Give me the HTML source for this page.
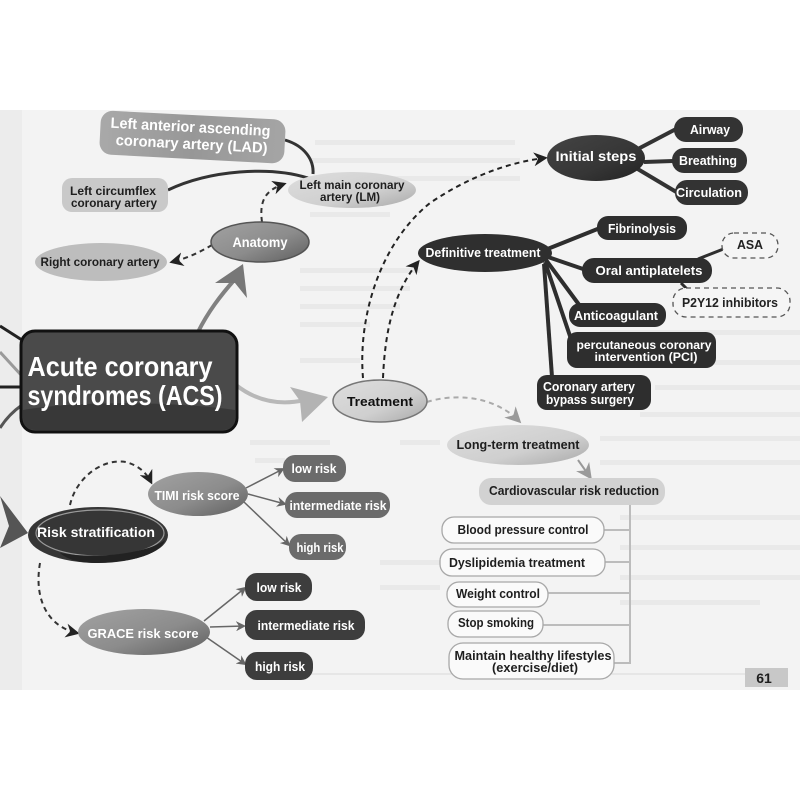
<!DOCTYPE html>
<html><head><meta charset="utf-8"><style>
html,body{margin:0;padding:0;background:#fff;}
svg{display:block;}
text{font-family:"Liberation Sans",sans-serif;font-weight:bold;}
</style></head><body>
<svg width="800" height="800" viewBox="0 0 800 800" xmlns="http://www.w3.org/2000/svg">
<defs>
<linearGradient id="gMid" x1="0" y1="0" x2="1" y2="1"><stop offset="0" stop-color="#a2a2a2"/><stop offset="0.55" stop-color="#8c8c8c"/><stop offset="1" stop-color="#5e5e5e"/></linearGradient>
<linearGradient id="gLight" x1="0" y1="0" x2="1" y2="1"><stop offset="0" stop-color="#dedede"/><stop offset="0.6" stop-color="#cfcfcf"/><stop offset="1" stop-color="#a8a8a8"/></linearGradient>
<linearGradient id="gDark" x1="0" y1="0" x2="1" y2="1"><stop offset="0" stop-color="#444"/><stop offset="0.6" stop-color="#363636"/><stop offset="1" stop-color="#222"/></linearGradient>
<linearGradient id="gLAD" x1="0" y1="0" x2="1" y2="0"><stop offset="0" stop-color="#a9a9a9"/><stop offset="0.5" stop-color="#979797"/><stop offset="1" stop-color="#a5a5a5"/></linearGradient>
<marker id="ad" viewBox="0 0 10 10" refX="8" refY="5" markerWidth="14" markerHeight="14" markerUnits="userSpaceOnUse" orient="auto"><path d="M0,0 L10,5 L0,10 L3,5 z" fill="#222"/></marker>
<marker id="ag" viewBox="0 0 10 10" refX="8" refY="5" markerWidth="16" markerHeight="16" markerUnits="userSpaceOnUse" orient="auto"><path d="M0,0 L10,5 L0,10 L3,5 z" fill="#9a9a9a"/></marker>
<marker id="at" viewBox="0 0 10 10" refX="8" refY="5" markerWidth="10" markerHeight="10" markerUnits="userSpaceOnUse" orient="auto"><path d="M0,0 L10,5 L0,10 L3,5 z" fill="#666"/></marker>
</defs>

<!-- page -->
<rect x="0" y="110" width="800" height="580" fill="#f3f3f3"/>
<rect x="0" y="110" width="22" height="580" fill="#ececec"/>
<!-- faint bleed-through text -->
<g fill="#e9e9e9">
<rect x="315" y="140" width="200" height="5"/><rect x="310" y="158" width="210" height="5"/><rect x="300" y="176" width="220" height="5"/>
<rect x="310" y="212" width="80" height="5"/><rect x="300" y="268" width="120" height="5"/><rect x="300" y="286" width="110" height="5"/>
<rect x="300" y="304" width="100" height="5"/><rect x="300" y="322" width="70" height="5"/><rect x="300" y="358" width="60" height="5"/>
<rect x="250" y="440" width="80" height="5"/><rect x="255" y="458" width="30" height="5"/>
<rect x="600" y="330" width="200" height="5"/><rect x="640" y="360" width="160" height="5"/><rect x="655" y="385" width="145" height="5"/>
<rect x="640" y="412" width="160" height="5"/><rect x="600" y="436" width="200" height="5"/><rect x="600" y="460" width="200" height="5"/>
<rect x="620" y="515" width="180" height="5"/><rect x="620" y="545" width="180" height="5"/><rect x="620" y="575" width="180" height="5"/><rect x="620" y="600" width="140" height="5"/>
<rect x="400" y="440" width="40" height="5"/><rect x="380" y="560" width="60" height="5"/><rect x="380" y="585" width="60" height="5"/>
</g>
<line x1="250" y1="674" x2="745" y2="674" stroke="#d8d8d8" stroke-width="1"/>

<!-- left edge lines -->
<g fill="none" stroke-width="3">
<path d="M0,326 L22,340" stroke="#222"/>
<path d="M0,352 L22,376" stroke="#9a9a9a"/>
<path d="M0,387 L22,387" stroke="#222"/>
<path d="M22,405 C12,412 5,420 0,428" stroke="#555"/>
</g>
<polygon points="0,496 28,533 0,548 9,526" fill="#555"/>

<!-- connectors anatomy -->
<path d="M285,140 C305,146 314,160 313,174" fill="none" stroke="#333" stroke-width="3"/>
<path d="M168,190 C210,170 270,166 308,178" fill="none" stroke="#333" stroke-width="3"/>
<path d="M262,222 C259,200 266,190 284,184" fill="none" stroke="#333" stroke-width="2" stroke-dasharray="5,4" marker-end="url(#ad)"/>
<path d="M212,245 C200,252 188,258 172,262" fill="none" stroke="#333" stroke-width="2" stroke-dasharray="5,4" marker-end="url(#ad)"/>

<!-- big arrow ACS->Anatomy -->
<path d="M198,332 C208,312 220,296 236,278" fill="none" stroke="#808080" stroke-width="4"/>
<polygon points="243,264 247,298 235,283 215,283" fill="#777"/>
<!-- ACS->Treatment -->
<path d="M236,385 C255,400 278,406 305,400" fill="none" stroke="#b8b8b8" stroke-width="4"/>
<polygon points="328,397 302,422 300,401 290,387" fill="#b3b3b3"/>

<!-- treatment dashed -->
<path d="M363,378 C358,320 378,245 430,203 C470,176 510,162 545,158" fill="none" stroke="#222" stroke-width="2" stroke-dasharray="5,4" marker-end="url(#ad)"/>
<path d="M383,378 C385,330 394,292 418,262" fill="none" stroke="#222" stroke-width="2" stroke-dasharray="5,4" marker-end="url(#ad)"/>
<path d="M427,402 C452,394 492,394 519,421" fill="none" stroke="#aaa" stroke-width="2" stroke-dasharray="5,4" marker-end="url(#ag)"/>
<path d="M578,460 L590,477" fill="none" stroke="#999" stroke-width="2" marker-end="url(#ag)"/>

<!-- initial steps lines -->
<g stroke="#333" stroke-width="4" fill="none">
<path d="M636,150 L676,129"/><path d="M644,162 L673,161"/><path d="M636,168 L678,193"/>
</g>
<!-- definitive lines -->
<g stroke="#2e2e2e" stroke-width="4" fill="none">
<path d="M545,250 L600,228"/><path d="M548,257 L586,270"/><path d="M546,260 L580,306"/><path d="M545,262 L572,342"/><path d="M544,264 L552,377"/>
<path d="M698,259 L726,248" stroke-width="3"/><path d="M681,283 L689,291" stroke-width="3"/>
</g>

<!-- bracket -->
<g stroke="#bcbcbc" stroke-width="2" fill="none">
<path d="M630,505 L630,664"/><path d="M604,530 L630,530"/><path d="M605,562 L630,562"/><path d="M548,593 L630,593"/><path d="M543,625 L630,625"/><path d="M614,663 L630,663"/>
</g>

<!-- risk dashed -->
<path d="M70,505 C76,478 102,458 126,462 C140,466 147,474 151,482" fill="none" stroke="#333" stroke-width="2" stroke-dasharray="5,4" marker-end="url(#ad)"/>
<path d="M40,563 C34,597 46,626 77,633" fill="none" stroke="#333" stroke-width="2" stroke-dasharray="5,4" marker-end="url(#ad)"/>
<!-- TIMI thin arrows -->
<g stroke="#666" stroke-width="1.5" fill="none">
<path d="M246,488 L283,469" marker-end="url(#at)"/><path d="M248,494 L285,504" marker-end="url(#at)"/><path d="M244,502 L289,545" marker-end="url(#at)"/>
<path d="M204,621 L245,588" marker-end="url(#at)"/><path d="M210,627 L244,626" marker-end="url(#at)"/><path d="M206,637 L245,664" marker-end="url(#at)"/>
</g>

<!-- LAD -->
<g transform="rotate(3 192 137)">
<rect x="100" y="115" width="185" height="44" rx="12" fill="url(#gLAD)"/>
<text x="190" y="132" font-size="15" fill="#fff" text-anchor="middle" textLength="160" lengthAdjust="spacingAndGlyphs">Left anterior ascending</text>
<text x="192" y="149" font-size="15" fill="#fff" text-anchor="middle" textLength="152" lengthAdjust="spacingAndGlyphs">coronary artery (LAD)</text>
</g>
<!-- Circumflex -->
<rect x="62" y="178" width="106" height="34" rx="10" fill="#c9c9c9"/>
<text x="113" y="195" font-size="12" fill="#1e1e1e" text-anchor="middle" textLength="86" lengthAdjust="spacingAndGlyphs">Left circumflex</text>
<text x="114" y="207" font-size="12" fill="#1e1e1e" text-anchor="middle" textLength="86" lengthAdjust="spacingAndGlyphs">coronary artery</text>
<!-- Right coronary -->
<ellipse cx="101" cy="262" rx="66" ry="19" fill="#bdbdbd"/>
<text x="100" y="266" font-size="12" fill="#1e1e1e" text-anchor="middle" textLength="119" lengthAdjust="spacingAndGlyphs">Right coronary artery</text>
<!-- LM -->
<ellipse cx="352" cy="190" rx="64" ry="18" fill="url(#gLight)"/>
<text x="352" y="189" font-size="12" fill="#1e1e1e" text-anchor="middle" textLength="105" lengthAdjust="spacingAndGlyphs">Left main coronary</text>
<text x="350" y="201" font-size="12" fill="#1e1e1e" text-anchor="middle" textLength="60" lengthAdjust="spacingAndGlyphs">artery (LM)</text>
<!-- Anatomy -->
<ellipse cx="260" cy="242" rx="49" ry="20" fill="url(#gMid)" stroke="#555" stroke-width="1.5"/>
<text x="260" y="247" font-size="14" fill="#fff" text-anchor="middle" textLength="55" lengthAdjust="spacingAndGlyphs">Anatomy</text>

<!-- ACS -->
<rect x="21" y="331" width="216" height="101" rx="14" fill="#4a4a4a" stroke="#111" stroke-width="3"/>
<path d="M23,410 C80,400 180,402 235,410 L235,418 Q235,430 222,430 L36,430 Q23,430 23,418 Z" fill="#383838"/>
<text x="120" y="376" font-size="28" fill="#fff" text-anchor="middle" textLength="185" lengthAdjust="spacingAndGlyphs">Acute coronary</text>
<text x="125" y="405" font-size="28" fill="#fff" text-anchor="middle" textLength="195" lengthAdjust="spacingAndGlyphs">syndromes (ACS)</text>

<!-- Treatment -->
<ellipse cx="380" cy="401" rx="47" ry="21" fill="url(#gLight)" stroke="#777" stroke-width="1.5"/>
<text x="380" y="406" font-size="13" fill="#111" text-anchor="middle" textLength="66" lengthAdjust="spacingAndGlyphs">Treatment</text>

<!-- Initial steps -->
<ellipse cx="596" cy="158" rx="49" ry="23" fill="url(#gDark)"/>
<text x="596" y="161" font-size="14" fill="#fff" text-anchor="middle" textLength="81" lengthAdjust="spacingAndGlyphs">Initial steps</text>
<rect x="674" y="117" width="69" height="25" rx="12" fill="#333"/>
<text x="710" y="134" font-size="13" fill="#fff" text-anchor="middle" textLength="40" lengthAdjust="spacingAndGlyphs">Airway</text>
<rect x="672" y="148" width="75" height="25" rx="12" fill="#333"/>
<text x="708" y="165" font-size="13" fill="#fff" text-anchor="middle" textLength="58" lengthAdjust="spacingAndGlyphs">Breathing</text>
<rect x="675" y="180" width="73" height="25" rx="12" fill="#333"/>
<text x="709" y="197" font-size="13" fill="#fff" text-anchor="middle" textLength="66" lengthAdjust="spacingAndGlyphs">Circulation</text>

<!-- Definitive -->
<ellipse cx="485" cy="253" rx="67" ry="19" fill="#2f2f2f"/>
<text x="483" y="257" font-size="12.5" fill="#fff" text-anchor="middle" textLength="115" lengthAdjust="spacingAndGlyphs">Definitive treatment</text>
<rect x="597" y="216" width="90" height="24" rx="11" fill="#2e2e2e"/>
<text x="642" y="233" font-size="12.5" fill="#fff" text-anchor="middle" textLength="68" lengthAdjust="spacingAndGlyphs">Fibrinolysis</text>
<rect x="582" y="258" width="130" height="25" rx="12" fill="#2e2e2e"/>
<text x="649" y="275" font-size="13" fill="#fff" text-anchor="middle" textLength="107" lengthAdjust="spacingAndGlyphs">Oral antiplatelets</text>
<rect x="722" y="233" width="56" height="25" rx="12" fill="#f5f5f5" stroke="#555" stroke-width="1.3" stroke-dasharray="5,4"/>
<text x="750" y="249" font-size="12.5" fill="#222" text-anchor="middle" font-weight="normal" textLength="26" lengthAdjust="spacingAndGlyphs">ASA</text>
<rect x="673" y="288" width="117" height="29" rx="13" fill="#f5f5f5" stroke="#555" stroke-width="1.3" stroke-dasharray="5,4"/>
<text x="730" y="307" font-size="12.5" fill="#222" text-anchor="middle" font-weight="normal" textLength="96" lengthAdjust="spacingAndGlyphs">P2Y12 inhibitors</text>
<rect x="569" y="303" width="97" height="24" rx="11" fill="#2e2e2e"/>
<text x="616" y="320" font-size="12.5" fill="#fff" text-anchor="middle" textLength="84" lengthAdjust="spacingAndGlyphs">Anticoagulant</text>
<rect x="567" y="332" width="149" height="36" rx="10" fill="#2e2e2e"/>
<text x="644" y="349" font-size="12" fill="#fff" text-anchor="middle" textLength="135" lengthAdjust="spacingAndGlyphs">percutaneous  coronary</text>
<text x="646" y="361" font-size="12" fill="#fff" text-anchor="middle" textLength="103" lengthAdjust="spacingAndGlyphs">intervention (PCI)</text>
<rect x="537" y="375" width="114" height="35" rx="10" fill="#2e2e2e"/>
<text x="589" y="391" font-size="12.5" fill="#fff" text-anchor="middle" textLength="92" lengthAdjust="spacingAndGlyphs">Coronary artery</text>
<text x="590" y="404" font-size="12.5" fill="#fff" text-anchor="middle" textLength="88" lengthAdjust="spacingAndGlyphs">bypass surgery</text>

<!-- Long-term -->
<ellipse cx="518" cy="445" rx="71" ry="20" fill="url(#gLight)"/>
<text x="518" y="449" font-size="12.5" fill="#1e1e1e" text-anchor="middle" textLength="123" lengthAdjust="spacingAndGlyphs">Long-term treatment</text>
<rect x="479" y="478" width="186" height="27" rx="12" fill="#d2d2d2"/>
<text x="574" y="495" font-size="12.5" fill="#1e1e1e" text-anchor="middle" textLength="170" lengthAdjust="spacingAndGlyphs">Cardiovascular risk reduction</text>

<g fill="#fafafa" stroke="#a8a8a8" stroke-width="1.3">
<rect x="442" y="517" width="162" height="26" rx="12"/>
<rect x="440" y="549" width="165" height="27" rx="12"/>
<rect x="447" y="582" width="101" height="25" rx="12"/>
<rect x="448" y="611" width="95" height="26" rx="12"/>
<rect x="449" y="643" width="165" height="36" rx="14"/>
</g>
<g fill="#1e1e1e" font-size="12.5" text-anchor="middle">
<text x="523" y="534" textLength="131" lengthAdjust="spacingAndGlyphs">Blood pressure control</text>
<text x="517" y="567" textLength="136" lengthAdjust="spacingAndGlyphs">Dyslipidemia treatment</text>
<text x="498" y="598" textLength="84" lengthAdjust="spacingAndGlyphs">Weight control</text>
<text x="496" y="627" textLength="76" lengthAdjust="spacingAndGlyphs">Stop smoking</text>
<text x="533" y="660" textLength="157" lengthAdjust="spacingAndGlyphs">Maintain healthy lifestyles</text>
<text x="535" y="672" textLength="86" lengthAdjust="spacingAndGlyphs">(exercise/diet)</text>
</g>
<rect x="745" y="668" width="43" height="19" fill="#c8c8c8"/>
<text x="764" y="683" font-size="14" fill="#1e1e1e" text-anchor="middle">61</text>

<!-- Risk stratification -->
<ellipse cx="98" cy="535" rx="70" ry="28" fill="#363636"/>
<ellipse cx="100" cy="533" rx="64" ry="23" fill="none" stroke="#9a9a9a" stroke-width="1.2"/>
<path d="M60,553 C100,560 150,552 165,540 C160,555 130,562 98,563 C80,563 68,560 60,553 Z" fill="#222"/>
<text x="96" y="537" font-size="14" fill="#fff" text-anchor="middle" textLength="118" lengthAdjust="spacingAndGlyphs">Risk stratification</text>

<!-- TIMI -->
<ellipse cx="198" cy="494" rx="50" ry="22" fill="url(#gMid)"/>
<text x="197" y="500" font-size="13" fill="#fff" text-anchor="middle" textLength="85" lengthAdjust="spacingAndGlyphs">TIMI risk score</text>
<g fill="#6b6b6b">
<rect x="283" y="455" width="63" height="27" rx="12"/>
<rect x="285" y="492" width="105" height="26" rx="12"/>
<rect x="289" y="534" width="57" height="26" rx="12"/>
</g>
<g fill="#fff" font-size="12.5" text-anchor="middle">
<text x="314" y="473" textLength="45" lengthAdjust="spacingAndGlyphs">low risk</text>
<text x="338" y="510" textLength="97" lengthAdjust="spacingAndGlyphs">intermediate risk</text>
<text x="320" y="552" textLength="47" lengthAdjust="spacingAndGlyphs">high risk</text>
</g>

<!-- GRACE -->
<ellipse cx="144" cy="632" rx="66" ry="23" fill="url(#gMid)"/>
<text x="143" y="638" font-size="13" fill="#fff" text-anchor="middle" textLength="111" lengthAdjust="spacingAndGlyphs">GRACE risk score</text>
<g fill="#3d3d3d">
<rect x="245" y="573" width="67" height="28" rx="12"/>
<rect x="245" y="610" width="120" height="30" rx="12"/>
<rect x="245" y="652" width="68" height="28" rx="12"/>
</g>
<g fill="#fff" font-size="13" text-anchor="middle">
<text x="279" y="592" textLength="45" lengthAdjust="spacingAndGlyphs">low risk</text>
<text x="306" y="630" textLength="97" lengthAdjust="spacingAndGlyphs">intermediate risk</text>
<text x="280" y="671" textLength="50" lengthAdjust="spacingAndGlyphs">high risk</text>
</g>
</svg>
</body></html>
